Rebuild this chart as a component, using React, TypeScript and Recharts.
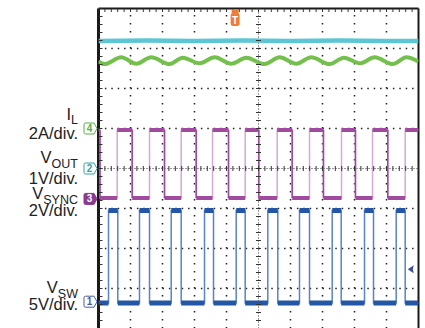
import React from 'react';
import { ComposedChart, Line, XAxis, YAxis, ReferenceLine, ReferenceDot, Scatter } from 'recharts';

// all values in screen divisions: x 0..10, y -4..4 (centre = 0)
const cyanX = [0, 1.5, 3, 4.5, 6, 7.5, 9, 10];
const cyanY = [3.19, 3.2, 3.19, 3.2, 3.19, 3.2, 3.19, 3.19];

const greenX = [0, 0.19, 0.71, 1.18, 1.65, 2.22, 2.63, 3.16, 3.63, 4.15, 4.62, 5.19, 5.66, 6.18, 6.65, 7.22, 7.67, 8.18, 8.63, 9.2, 9.62, 10];
const greenY = [2.68, 2.61, 2.78, 2.62, 2.78, 2.61, 2.77, 2.63, 2.78, 2.62, 2.77, 2.61, 2.78, 2.62, 2.78, 2.61, 2.77, 2.63, 2.78, 2.61, 2.78, 2.67];

const purpleHigh = 0.96;
const purpleLow = -0.74;
const purpleRise = [0.584, 1.594, 2.584, 3.563, 4.584, 5.584, 6.594, 7.594, 8.563, 9.584];
const purpleFall = [0.047, 1.053, 2.063, 3.053, 4.063, 5.01, 6.053, 7.03, 8.03, 9.04];

const blueHigh = -1.05;
const blueLow = -3.36;
const blueRise = [0.3125, 1.281, 2.272, 3.3125, 4.303, 5.291, 6.281, 7.303, 8.3125, 9.303];
const blueFall = [0.603, 1.594, 2.584, 3.594, 4.584, 5.603, 6.594, 7.584, 8.594, 9.584];

const majorX = [1, 2, 3, 4, 6, 7, 8, 9];
const majorY = [-3, -2, -1, 1, 2, 3];
const minorX = Array.from({ length: 51 }, (_, i) => +(i * 0.2).toFixed(2));
const minorY = Array.from({ length: 41 }, (_, i) => +(-4 + i * 0.2).toFixed(2));

const markers = [
  { y: 1.0, label: '4', color: '#55ad45', filled: false },
  { y: 0.0, label: '2', color: '#33a3a6', filled: false },
  { y: -0.76, label: '3', color: '#8c3a8e', filled: true },
  { y: -3.33, label: '1', color: '#4a5aa2', filled: false },
];
const triggerX = 4.27;
const levelMarker = { x: 9.79, y: -2.52 };

function squareWave(rise: number[], fall: number[], hi: number, lo: number, startHigh: boolean) {
  const ev = [...rise.map((x) => ({ x, up: true })), ...fall.map((x) => ({ x, up: false }))].sort((a, b) => a.x - b.x);
  let level = startHigh ? hi : lo;
  const full: any[] = [{ x: 0, y: level }];
  const levels: any[] = [{ x: 0, y: level }];
  for (const e of ev) {
    full.push({ x: e.x, y: level });
    levels.push({ x: e.x, y: level });
    levels.push({ x: e.x, y: null });
    level = e.up ? hi : lo;
    full.push({ x: e.x, y: level });
    levels.push({ x: e.x, y: level });
  }
  full.push({ x: 10, y: level });
  levels.push({ x: 10, y: level });
  return { full, levels };
}

function edgesOnly(edges: number[], hi: number, lo: number) {
  const out: any[] = [];
  for (const x of edges) {
    out.push({ x, y: hi }, { x, y: lo }, { x, y: null });
  }
  return out;
}

const purple = squareWave(purpleRise, purpleFall, purpleHigh, purpleLow, true);
const purpleFallEdges = edgesOnly(purpleFall, purpleHigh, purpleLow);
const blue = squareWave(blueRise, blueFall, blueHigh, blueLow, false);
const cyanData = cyanX.map((x, i) => ({ x, y: cyanY[i] }));
const greenData = greenX.map((x, i) => ({ x, y: greenY[i] }));
const centreVTicks = minorY.map((y) => ({ x: 5, y }));
const centreHTicks = minorX.map((x) => ({ x, y: 0 }));
const leftTicks = minorY.map((y) => ({ x: 0, y }));
const topTicks = minorX.map((x) => ({ x, y: 4 }));

const HTick = (p: any) => <line x1={p.cx - 2.5} x2={p.cx + 2.5} y1={p.cy} y2={p.cy} stroke="#333" strokeWidth={1} />;
const VTick = (p: any) => <line x1={p.cx} x2={p.cx} y1={p.cy - 2.5} y2={p.cy + 2.5} stroke="#333" strokeWidth={1} />;
const LeftTick = (p: any) => <line x1={p.cx} x2={p.cx + 4} y1={p.cy} y2={p.cy} stroke="#333" strokeWidth={1} />;
const TopTick = (p: any) => <line x1={p.cx} x2={p.cx} y1={p.cy} y2={p.cy + 3.5} stroke="#333" strokeWidth={1} />;

const ChannelMarker = (m: any) => (p: any) => {
  const tip = p.cx - 1.5;
  const cy = p.cy;
  const l = tip - 13;
  const r = tip - 3;
  const d = `M${l + 1.5},${cy - 5.5} L${r},${cy - 5.5} L${tip},${cy} L${r},${cy + 5.5} L${l + 1.5},${cy + 5.5} Q${l},${cy + 5.5} ${l},${cy + 4} L${l},${cy - 4} Q${l},${cy - 5.5} ${l + 1.5},${cy - 5.5} Z`;
  return (
    <g>
      <path d={d} fill={m.filled ? m.color : '#fff'} stroke={m.color} strokeWidth={1} />
      <text x={l + 5.5} y={cy + 3.5} textAnchor="middle" fontSize={10} fontWeight="bold" fontFamily="Liberation Sans, Arial, sans-serif" fill={m.filled ? '#fff' : m.color}>{m.label}</text>
    </g>
  );
};

const TriggerMarker = (p: any) => {
  const x = p.cx;
  const y = p.cy;
  return (
    <g>
      <rect x={x - 3.5} y={y + 1} width={7} height={4} fill="#ee7d35" />
      <rect x={x - 4.5} y={y + 4.5} width={9} height={13} rx={2.5} fill="#ee7d35" />
      <text x={x} y={y + 15.5} textAnchor="middle" fontSize={10} fontWeight="bold" fontFamily="Liberation Sans, Arial, sans-serif" fill="#fff">T</text>
    </g>
  );
};

const LevelMarker = (p: any) => {
  const x = p.cx;
  const y = p.cy;
  return <path d={`M${x - 4},${y} L${x + 2},${y - 4} L${x + 1},${y} L${x + 2},${y + 4} Z`} fill="#3b4a9c" />;
};

const labelFont = 'Liberation Sans, Arial, Helvetica, sans-serif';

export default function App() {
  return (
    <div style={{ position: 'fixed', left: 0, top: 0, width: 425, height: 328, overflow: 'hidden', background: '#fff' }}>
      <ComposedChart width={425} height={340} margin={{ top: 8.5, left: 98.5, right: 6.5, bottom: 11.5 }}>
        <XAxis type="number" dataKey="x" domain={[0, 10]} hide allowDataOverflow />
        <YAxis type="number" dataKey="y" domain={[-4, 4]} hide allowDataOverflow />
        {majorX.map((v) => (
          <ReferenceLine key={'vx' + v} x={v} stroke="#222" strokeWidth={1.5} strokeDasharray="1.5 6.5" />
        ))}
        {majorY.map((v) => (
          <ReferenceLine key={'hy' + v} y={v} stroke="#222" strokeWidth={1.5} strokeDasharray="1.5 4.9" />
        ))}
        <ReferenceLine x={5} stroke="#333" strokeWidth={1} strokeDasharray="1 2" />
        <ReferenceLine y={0} stroke="#333" strokeWidth={1} strokeDasharray="1 2" />
        <ReferenceLine x={0} stroke="#1a1a1a" strokeWidth={3} />
        <ReferenceLine x={10} stroke="#1a1a1a" strokeWidth={2} />
        <ReferenceLine y={4} stroke="#1a1a1a" strokeWidth={2} />
        <Scatter data={centreVTicks} shape={HTick} isAnimationActive={false} />
        <Scatter data={centreHTicks} shape={VTick} isAnimationActive={false} />
        <Scatter data={leftTicks} shape={LeftTick} isAnimationActive={false} />
        <Scatter data={topTicks} shape={TopTick} isAnimationActive={false} />

        <Line data={cyanData} dataKey="y" type="linear" stroke="#5cc6d4" strokeWidth={4.5} dot={false} isAnimationActive={false} />
        <Line data={greenData} dataKey="y" type="monotone" stroke="#74c04c" strokeWidth={4} dot={false} isAnimationActive={false} />

        <Line data={purple.full} dataKey="y" type="linear" stroke="#d6a8d6" strokeWidth={1.5} dot={false} isAnimationActive={false} />
        <Line data={purpleFallEdges} dataKey="y" type="linear" stroke="#9c469c" strokeWidth={1.5} dot={false} connectNulls={false} isAnimationActive={false} />
        <Line data={purple.levels} dataKey="y" type="linear" stroke="#a04aa0" strokeWidth={4} dot={false} connectNulls={false} isAnimationActive={false} />

        <Line data={blue.full} dataKey="y" type="linear" stroke="#5a82c8" strokeWidth={1.5} dot={false} isAnimationActive={false} />
        <Line data={blue.levels} dataKey="y" type="linear" stroke="#2456a6" strokeWidth={5} dot={false} connectNulls={false} isAnimationActive={false} />

        {markers.map((m) => (
          <ReferenceDot key={m.label} x={0} y={m.y} r={6} ifOverflow="visible" shape={ChannelMarker(m)} />
        ))}
        <ReferenceDot x={triggerX} y={4} r={6} ifOverflow="visible" shape={TriggerMarker} />
        <ReferenceDot x={levelMarker.x} y={levelMarker.y} r={4} ifOverflow="visible" shape={LevelMarker} />
      </ComposedChart>

      <svg width={425} height={328} style={{ position: 'absolute', left: 0, top: 0, pointerEvents: 'none' }}>
        <g fontFamily={labelFont} fill="#222" textAnchor="end" fontSize={16.5}>
          <text x={78} y={120}>I<tspan fontSize={12.5} dy={4}>L</tspan></text>
          <text x={78} y={139}>2A/div.</text>
          <text x={78} y={163}>V<tspan fontSize={12.5} dy={5}>OUT</tspan></text>
          <text x={78} y={184}>1V/div.</text>
          <text x={78} y={199}>V<tspan fontSize={12.5} dy={5}>SYNC</tspan></text>
          <text x={78} y={216}>2V/div.</text>
          <text x={78} y={293}>V<tspan fontSize={12.5} dy={5}>SW</tspan></text>
          <text x={78} y={310}>5V/div.</text>
        </g>
      </svg>
    </div>
  );
}
